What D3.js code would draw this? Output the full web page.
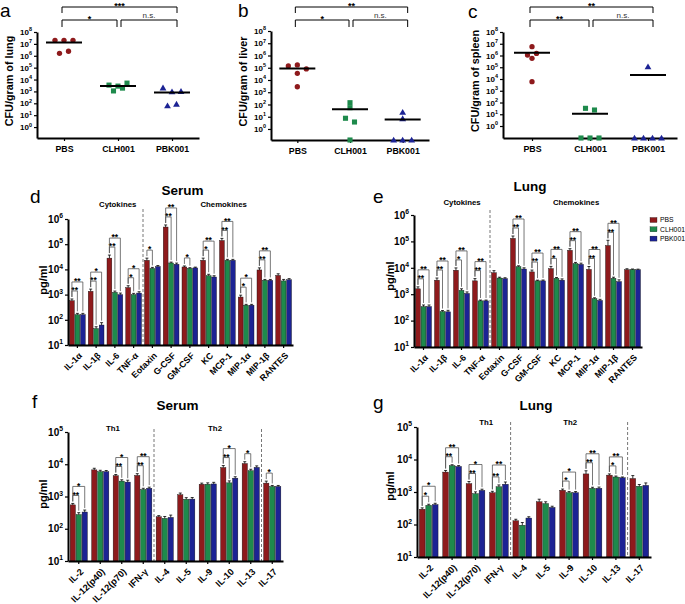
<!DOCTYPE html>
<html><head><meta charset="utf-8">
<script src="https://cdn.jsdelivr.net/npm/d3@7"></script>
<style>
body{margin:0;background:#fff;}
svg{display:block;font-family:"Liberation Sans",Arial,Helvetica,sans-serif;}
</style></head><body>
<svg id="chart" width="685" height="604"></svg>
<script>
// ================= DATA =================
const groupNames = ["PBS", "CLH001", "PBK001"];
const seriesColors = ["#8e1a1c", "#1e8a4c", "#1c2394"];

// Panels a-c : CFU per gram (0 = below detection, drawn on the axis)
const lungPBS = [2e7, 2e7, 2e7, 1.6e6, 2.4e6];
const lungCLH = [3.4e3, 2.8e3, 5e3, 1.1e3, 1.9e3];
const lungPBK = [2e3, 930, 1e3, 62, 85];
const liverPBS = [1.4e5, 1.7e5, 8e4, 3.5e4, 2.8e3];
const liverCLH = [140, 55, 7.5, 3.7, 0];
const liverPBK = [23, 7, 0, 0, 0];
const spleenPBS = [5.6e6, 1.1e6, 1.5e6, 5.8e5, 5.9e3];
const spleenCLH = [32, 23, 0, 0, 0];
const spleenPBK = [1.1e5, 0, 0, 0, 0];
const cfuTicks = [1, 10, 100, 1e3, 1e4, 1e5, 1e6, 1e7, 1e8];
const sigAll = ["***", "**", "**"];        // PBS vs PBK001
const sigPBSvsCLH = ["*", "*", "**"];
const sigCLHvsPBK = ["n.s.", "n.s.", "n.s."];

// Panels d-e : cytokines / chemokines
const ccCats = ["IL-1α", "IL-1β", "IL-6", "TNF-α", "Eotaxin", "G-CSF", "GM-CSF", "KC", "MCP-1", "MIP-1α", "MIP-1β", "RANTES"];
const dPBS = [570, 1350, 28000, 1900, 23000, 480000, 12500, 23000, 140000, 800, 9500, 5800];
const dCLH = [160, 45, 1230, 1000, 11000, 18000, 11000, 5600, 23000, 380, 3700, 3500];
const dPBK = [160, 62, 1000, 1150, 13000, 16000, 11500, 5000, 23000, 380, 3700, 3900];
const dPBSerr = [100, 300, 9000, 350, 5000, 100000, 1200, 5000, 30000, 150, 2000, 900];
const dCLHerr = [20, 8, 150, 120, 1000, 1500, 700, 800, 2000, 30, 300, 500];
const dPBKerr = [20, 15, 150, 150, 1200, 1800, 800, 600, 2000, 30, 300, 400];
const dSigG = ["**", "**", "**", "*", "*", "**", "*", "*", "**", "*", "**", ""];
const dSigB = ["**", "*", "**", "*", "", "**", "", "**", "**", "*", "**", ""];

const ePBS = [1600, 3400, 8100, 3200, 6500, 130000, 7000, 9300, 46000, 8700, 70000, 8500];
const eCLH = [340, 220, 1400, 560, 4100, 11000, 3200, 4000, 14500, 680, 4000, 8600];
const ePBK = [340, 215, 1070, 560, 3900, 9000, 3200, 3400, 13500, 580, 3000, 8400];
const ePBSerr = [300, 700, 1800, 700, 1300, 30000, 1200, 2000, 7000, 2500, 40000, 700];
const eCLHerr = [50, 20, 200, 40, 300, 900, 200, 300, 1500, 50, 400, 400];
const ePBKerr = [50, 30, 150, 40, 300, 1000, 250, 400, 1500, 60, 500, 500];
const eSigG = ["**", "**", "*", "**", "", "**", "**", "*", "**", "**", "**", ""];
const eSigB = ["**", "**", "**", "**", "", "**", "**", "**", "**", "**", "**", ""];

// Panels f-g : Th1 / Th2 / Th17
const thCats = ["IL-2", "IL-12(p40)", "IL-12(p70)", "IFN-γ", "IL-4", "IL-5", "IL-9", "IL-10", "IL-13", "IL-17"];
const fPBS = [550, 6700, 4400, 4500, 235, 1130, 2400, 7900, 10500, 2600];
const fCLH = [275, 5900, 3000, 1650, 210, 820, 2400, 2650, 6300, 2050];
const fPBK = [330, 5900, 2800, 1800, 225, 830, 2450, 3700, 8000, 2050];
const fPBSerr = [60, 800, 400, 600, 20, 150, 200, 1200, 1500, 400];
const fCLHerr = [40, 600, 300, 150, 30, 100, 250, 400, 700, 150];
const fPBKerr = [50, 500, 400, 150, 40, 100, 300, 400, 900, 150];
const fSigG = ["**", "", "**", "**", "", "", "", "**", "*", "*"];
const fSigB = ["*", "", "*", "**", "", "", "", "*", "", ""];

const gPBS = [295, 4100, 1800, 950, 130, 500, 1130, 3600, 3300, 2600];
const gCLH = [390, 6500, 890, 1450, 95, 440, 950, 1300, 2900, 1500];
const gPBK = [410, 6100, 1120, 1730, 158, 335, 950, 1300, 2750, 1600];
const gPBSerr = [30, 500, 300, 100, 15, 100, 100, 900, 300, 600];
const gCLHerr = [30, 400, 120, 200, 20, 60, 80, 100, 200, 200];
const gPBKerr = [40, 400, 100, 300, 15, 30, 80, 120, 150, 300];
const gSigG = ["*", "**", "**", "**", "", "", "*", "**", "*", ""];
const gSigB = ["*", "**", "*", "**", "", "", "*", "**", "**", ""];

// ================= DRAWING =================
const svg = d3.select("#chart");

function supLabels(sel, fs) {
  sel.each(function (d) {
    const t = d3.select(this);
    const e = Math.round(Math.log10(d));
    t.text(null);
    t.append("tspan").text("10");
    t.append("tspan").attr("dy", -fs * 0.45).attr("font-size", fs * 0.68).text(e);
  });
}

function styleAxis(g, w) {
  g.select(".domain").attr("stroke", "#000").attr("stroke-width", w);
  g.selectAll(".tick line").attr("stroke", "#000").attr("stroke-width", 1.2);
}

function letter(t, x, y) {
  svg.append("text").attr("x", x).attr("y", y).attr("font-size", 19).text(t);
}

function drawScatter(o) {
  const g = svg.append("g");
  const y = d3.scaleLog().domain([o.yMin, 1e8]).range([o.yBot, o.yTop]);
  const x = d3.scalePoint().domain(groupNames).range([o.x0, o.x1]).padding(0.5);

  const ya = g.append("g").attr("transform", `translate(${o.x0},0)`)
    .call(d3.axisLeft(y).tickValues(cfuTicks).tickSize(3).tickSizeOuter(0).tickPadding(2));
  styleAxis(ya, 2);
  ya.selectAll(".tick text").attr("font-size", 8).attr("font-weight", "bold").attr("fill", "#000").call(supLabels, 8);

  const xa = g.append("g").attr("transform", `translate(0,${o.yBot})`)
    .call(d3.axisBottom(x).tickSize(3).tickSizeOuter(0).tickPadding(5));
  styleAxis(xa, 2);
  xa.selectAll(".tick text").attr("font-size", 8.8).attr("font-weight", "bold").attr("fill", "#000");

  g.append("text").attr("transform", `translate(${o.x0 - 28},${(o.yTop + o.yBot) / 2 - 4}) rotate(-90)`)
    .attr("text-anchor", "middle").attr("dy", "0.35em").attr("font-size", 10.8).attr("font-weight", "bold")
    .text(o.yLabel);

  const symbols = [d3.symbolCircle, d3.symbolSquare, d3.symbolTriangle];
  const sizes = [22, 26, 20];
  o.data.forEach((vals, si) => {
    const cx = x(groupNames[si]);
    const pts = vals.map((v, i) => ({ v, i, y: v > 0 ? y(v) : o.yBot }));
    const sorted = pts.slice().sort((a, b) => a.y - b.y || a.i - b.i);
    const rows = [];
    let cur = null;
    sorted.forEach(p => {
      if (cur && p.y - cur.start < 4.5) cur.items.push(p);
      else { cur = { start: p.y, items: [p] }; rows.push(cur); }
    });
    rows.forEach(r => {
      r.items.sort((a, b) => a.i - b.i);
      const n = r.items.length;
      r.items.forEach((p, k) => p.dx = (k - (n - 1) / 2) * 9);
    });
    g.selectAll(null).data(pts).join("path")
      .attr("d", d3.symbol().type(symbols[si]).size(sizes[si]))
      .attr("transform", p => `translate(${cx + p.dx},${p.y + (si === 2 ? 0.6 : 0)})`)
      .attr("fill", seriesColors[si]);
    const m = d3.mean(vals);
    g.append("line").attr("x1", cx - 18).attr("x2", cx + 18).attr("y1", y(m)).attr("y2", y(m))
      .attr("stroke", "#000").attr("stroke-width", 2);
  });

  // significance brackets
  const xl = x("PBS") - 2, xm = x("CLH001"), xr = x("PBK001") + 5;
  const br = (x1, x2, yy, legs, label, star) => {
    g.append("path").attr("d", `M${x1},${yy + legs}V${yy}H${x2}V${yy + legs}`)
      .attr("fill", "none").attr("stroke", "#000").attr("stroke-width", 1);
    g.append("text").attr("x", (x1 + x2) / 2).attr("y", star ? yy + 2.2 : yy - 1.8)
      .attr("text-anchor", "middle").attr("font-size", star ? 9 : 8)
      .attr("font-weight", star ? "bold" : "normal").attr("fill", star ? "#000" : "#333").text(label);
  };
  br(xl, xr, 7, 6, o.sAll, true);
  br(xl, xm - 1, 20, 7, o.sLeft, true);
  br(xm + 3, xr, 20, 7, o.sRight, o.sRight !== "n.s.");
}

drawScatter({ x0: 37, x1: 199, yTop: 32, yBot: 138, yMin: Math.pow(10, -0.92), yLabel: "CFU/gram of lung",
  data: [lungPBS, lungCLH, lungPBK], sAll: sigAll[0], sLeft: sigPBSvsCLH[0], sRight: sigCLHvsPBK[0] });
drawScatter({ x0: 271, x1: 429, yTop: 31, yBot: 140, yMin: Math.pow(10, -0.9), yLabel: "CFU/gram of liver",
  data: [liverPBS, liverCLH, liverPBK], sAll: sigAll[1], sLeft: sigPBSvsCLH[1], sRight: sigCLHvsPBK[1] });
drawScatter({ x0: 503, x1: 677, yTop: 32, yBot: 138, yMin: Math.pow(10, -1.02), yLabel: "CFU/gram of spleen",
  data: [spleenPBS, spleenCLH, spleenPBK], sAll: sigAll[2], sLeft: sigPBSvsCLH[2], sRight: sigCLHvsPBK[2] });
letter("a", 0, 17);
letter("b", 238, 17);
letter("c", 468, 18);

function drawBars(o) {
  const g = svg.append("g");
  const y = d3.scaleLog().domain([10, o.yMax]).range([o.yBot, o.yTop]);
  const xb = d3.scaleBand().domain(o.cats).range([o.x0, o.x1]).paddingInner(o.pad).paddingOuter(o.pad / 2);
  const xs = d3.scaleBand().domain([0, 1, 2]).range([0, xb.bandwidth()]).paddingInner(0.12);
  const step = xb.step();

  // dashed dividers
  o.dividers.forEach(k => {
    const xx = o.x0 + k * step;
    g.append("line").attr("x1", xx).attr("x2", xx).attr("y1", o.dashTop).attr("y2", o.yBot)
      .attr("stroke", "#777").attr("stroke-width", 1).attr("stroke-dasharray", "3,2");
  });

  const tops = [];
  o.series.forEach((ser, si) => {
    const errs = o.errs[si];
    tops.push(ser.map((v, i) => y(v + errs[i])));
    g.selectAll(null).data(ser).join("rect")
      .attr("x", (d, i) => xb(o.cats[i]) + xs(si)).attr("width", xs.bandwidth())
      .attr("y", d => y(d)).attr("height", d => o.yBot - y(d))
      .attr("fill", seriesColors[si]).attr("stroke", "#111").attr("stroke-width", 0.4);
    g.selectAll(null).data(ser).join("path")
      .attr("d", (d, i) => {
        const cx = xb(o.cats[i]) + xs(si) + xs.bandwidth() / 2;
        const y1 = y(d), y2 = y(d + errs[i]);
        return `M${cx},${y1}V${y2}M${cx - 1.5},${y2}H${cx + 1.5}`;
      })
      .attr("stroke", "#000").attr("stroke-width", 0.8).attr("fill", "none");
  });

  // significance brackets
  const cxOf = (i, si) => xb(o.cats[i]) + xs(si) + xs.bandwidth() / 2;
  const bracket = (i, sTo, yy, label) => {
    const xa = cxOf(i, 0), xz = cxOf(i, sTo);
    g.append("path").attr("d", `M${xa},${tops[0][i] - 2}V${yy}H${xz}V${tops[sTo][i] - 2}`)
      .attr("fill", "none").attr("stroke", "#555").attr("stroke-width", 0.8);
    g.append("text").attr("x", (xa + xz) / 2).attr("y", yy + 2.2).attr("text-anchor", "middle")
      .attr("font-size", 8.5).attr("font-weight", "bold").text(label);
  };
  o.cats.forEach((c, i) => {
    const sG = o.sigG[i], sB = o.sigB[i];
    if (sG) bracket(i, 1, Math.min(tops[0][i], tops[1][i]) - 8, sG);
    if (sB) {
      const yy = sG ? Math.min(tops[0][i], tops[1][i], tops[2][i]) - 17 : Math.min(tops[0][i], tops[2][i]) - 8;
      bracket(i, 2, yy, sB);
    }
  });

  // axes
  const decades = d3.range(1, Math.round(Math.log10(o.yMax)) + 1).map(e => Math.pow(10, e));
  const ya = g.append("g").attr("transform", `translate(${o.x0},0)`)
    .call(d3.axisLeft(y).tickValues(decades).tickSize(3).tickSizeOuter(0).tickPadding(2));
  styleAxis(ya, 2);
  ya.selectAll(".tick text").attr("font-size", 10).attr("font-weight", "bold").attr("fill", "#000").call(supLabels, 10);

  const xa = g.append("g").attr("transform", `translate(0,${o.yBot})`)
    .call(d3.axisBottom(xb).tickSize(3).tickSizeOuter(0));
  styleAxis(xa, 2);
  xa.selectAll(".tick text").attr("font-size", o.labFs).attr("font-weight", "bold").attr("fill", "#000")
    .attr("text-anchor", "end").attr("dy", "0.35em").attr("y", 0)
    .attr("transform", "translate(3,9) rotate(-45)");

  g.append("text").attr("transform", `translate(${o.ylX},${o.ylY}) rotate(-90)`)
    .attr("text-anchor", "middle").attr("dy", "0.35em").attr("font-size", 11).attr("font-weight", "bold").text("pg/ml");

  g.append("text").attr("x", (o.x0 + o.x1) / 2 + 2).attr("y", o.titleY).attr("text-anchor", "middle")
    .attr("font-size", 13.5).attr("font-weight", "bold").text(o.title);
  o.headers.forEach(h => {
    g.append("text").attr("x", o.x0 + h.pos * step).attr("y", o.headY).attr("text-anchor", "middle")
      .attr("font-size", 7.8).attr("font-weight", "bold").text(h.text);
  });
}

drawBars({ x0: 68, x1: 293, yTop: 219, yBot: 345, yMax: 1e6, cats: ccCats, pad: 0.16,
  series: [dPBS, dCLH, dPBK], errs: [dPBSerr, dCLHerr, dPBKerr], sigG: dSigG, sigB: dSigB,
  dividers: [4], dashTop: 209, title: "Serum", titleY: 195, headY: 207,
  headers: [{ text: "Cytokines", pos: 2.65 }, { text: "Chemokines", pos: 8.3 }],
  ylX: 43, ylY: 280, labFs: 8.8 });
drawBars({ x0: 414, x1: 642, yTop: 215, yBot: 347, yMax: 1e6, cats: ccCats, pad: 0.16,
  series: [ePBS, eCLH, ePBK], errs: [ePBSerr, eCLHerr, ePBKerr], sigG: eSigG, sigB: eSigB,
  dividers: [4], dashTop: 210, title: "Lung", titleY: 191, headY: 205,
  headers: [{ text: "Cytokines", pos: 2.53 }, { text: "Chemokines", pos: 8.53 }],
  ylX: 390, ylY: 276, labFs: 8.8 });
drawBars({ x0: 68, x1: 283, yTop: 432, yBot: 561, yMax: 1e5, cats: thCats, pad: 0.2,
  series: [fPBS, fCLH, fPBK], errs: [fPBSerr, fCLHerr, fPBKerr], sigG: fSigG, sigB: fSigB,
  dividers: [4, 9], dashTop: 429, title: "Serum", titleY: 410, headY: 431,
  headers: [{ text: "Th1", pos: 2.09 }, { text: "Th2", pos: 6.84 }],
  ylX: 43, ylY: 494, labFs: 9.2 });
drawBars({ x0: 417, x1: 651, yTop: 427, yBot: 557, yMax: 1e5, cats: thCats, pad: 0.2,
  series: [gPBS, gCLH, gPBK], errs: [gPBSerr, gCLHerr, gPBKerr], sigG: gSigG, sigB: gSigB,
  dividers: [4, 9], dashTop: 422, title: "Lung", titleY: 410, headY: 425,
  headers: [{ text: "Th1", pos: 2.96 }, { text: "Th2", pos: 6.55 }],
  ylX: 390, ylY: 486, labFs: 9.2 });
letter("d", 30, 203);
letter("e", 373, 203);
letter("f", 32, 408);
letter("g", 373, 409);

// legend (panel e)
const leg = svg.append("g").attr("transform", "translate(650,220)");
groupNames.forEach((n, i) => {
  leg.append("rect").attr("x", 0).attr("y", i * 9.3 - 2.5).attr("width", 7).attr("height", 5)
    .attr("fill", seriesColors[i]).attr("stroke", "#111").attr("stroke-width", 0.3);
  leg.append("text").attr("x", 10).attr("y", i * 9.3).attr("dy", "0.35em").attr("font-size", 6.8).text(n);
});
</script>
</body></html>
